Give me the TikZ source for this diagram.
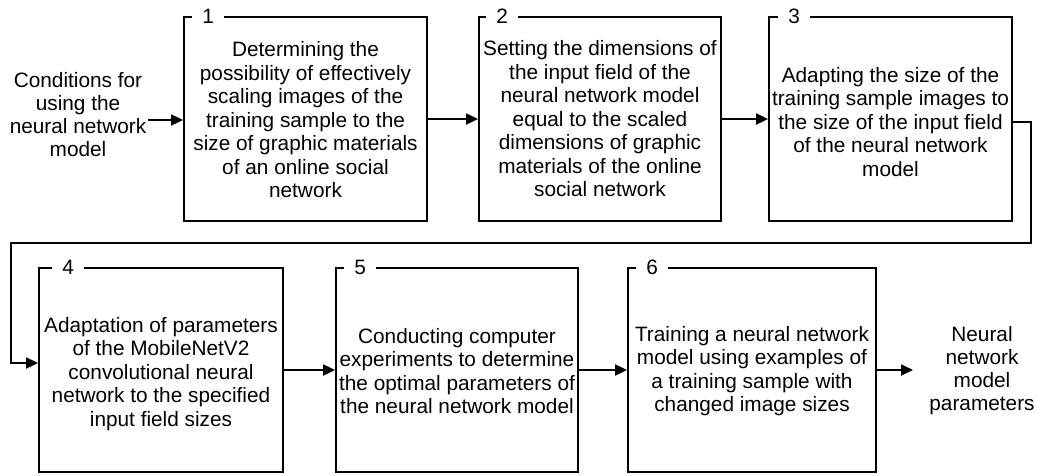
\documentclass[tikz,border=0pt]{standalone}
\usepackage{fontspec}
\setmainfont{Liberation Sans}
\usetikzlibrary{arrows.meta,calc}
\tikzset{
  stage/.style={draw=black, line width=1.8pt, fill=none,
    minimum height=204pt, inner sep=0pt},
  stagetext/.style={align=center, inner sep=0pt, font=\fontsize{20.8}{23.5}\selectfont},
  caption/.style={align=center, inner sep=0pt, font=\fontsize{20.8}{23}\selectfont},
  num/.style={fill=white, inner xsep=10pt, inner ysep=1pt, font=\fontsize{20.8}{23}\selectfont},
  flow/.style={line width=1.8pt, -{Triangle[length=12pt,width=11pt]}},
}
\begin{document}
\begin{tikzpicture}[x=1pt,y=-1pt]
\useasboundingbox (0,0) rectangle (1037,475);

% upper row
\node[stage, minimum width=243pt] (b1) at (305.5,119) {};
\node[stage, minimum width=242pt] (b2) at (600,119) {};
\node[stage, minimum width=243pt] (b3) at (890.5,119) {};
% lower row
\node[stage, minimum width=244pt] (b4) at (161,370) {};
\node[stage, minimum width=242pt] (b5) at (457,370) {};
\node[stage, minimum width=248pt] (b6) at (752,370) {};

% box texts
\node[stagetext] (t1) at ($(b1.center)+(0,1)$)
  {Determining the\\possibility of effectively\\scaling images of the\\training sample to the\\size of graphic materials\\of an online social\\network};
\node[stagetext] (t2) at ($(b2.center)+(0,0)$)
  {Setting the dimensions of\\the input field of the\\neural network model\\equal to the scaled\\dimensions of graphic\\materials of the online\\social network};
\node[stagetext] (t3) at ($(b3.center)+(0,3)$)
  {Adapting the size of the\\training sample images to\\the size of the input field\\of the neural network\\model};
\node[stagetext] (t4) at ($(b4.center)+(0,4)$)
  {Adaptation of parameters\\of the MobileNetV2\\convolutional neural\\network to the specified\\input field sizes};
\node[stagetext] (t5) at ($(b5.center)+(0,1)$)
  {Conducting computer\\experiments to determine\\the optimal parameters of\\the neural network model};
\node[stagetext] (t6) at ($(b6.center)+(0,1)$)
  {Training a neural network\\model using examples of\\a training sample with\\changed image sizes};

% stage numbers on the top edges
\node[num] (n1) at ($(b1.north west)+(25,0)$) {1};
\node[num] (n2) at ($(b2.north west)+(24,0)$) {2};
\node[num] (n3) at ($(b3.north west)+(26,0)$) {3};
\node[num] (n4) at ($(b4.north west)+(30,0)$) {4};
\node[num] (n5) at ($(b5.north west)+(25,0)$) {5};
\node[num] (n6) at ($(b6.north west)+(25,0)$) {6};

% input and output
\node[caption] (in) at (78,115) {Conditions for\\using the\\neural network\\model};
\node[caption] (out) at (982,371) {Neural\\network\\model\\parameters};

\coordinate (inEnd) at (148,120);
\draw[flow] (inEnd) -- (b1.west |- inEnd);
\draw[flow] (b1) -- (b2);
\draw[flow] (b2) -- (b3);

% return line from stage 3 to stage 4
\coordinate (r0) at ($(b3.east)+(0,3)$);
\coordinate (r1) at (1031,122);
\coordinate (r2) at (1031,243);
\coordinate (r3) at (11,243);
\coordinate (r4) at (11,363);
\draw[flow] (r0) -- (r1) -- (r2) -- (r3) -- (r4) -- (b4.west |- r4);

\draw[flow] (b4) -- (b5);
\draw[flow] (b5) -- (b6);
\coordinate (outEnd) at (913,370);
\draw[flow] (b6.east) -- (outEnd);
\end{tikzpicture}
\end{document}
